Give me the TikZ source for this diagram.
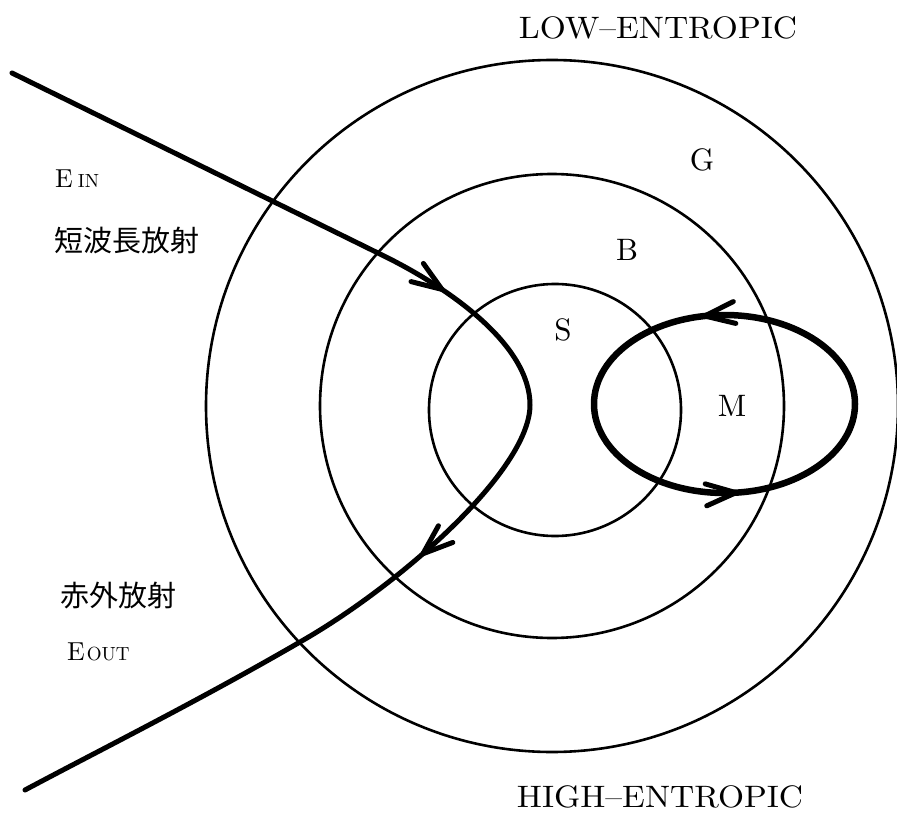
\documentclass[tikz,border=0pt]{standalone}
\usepackage{fontspec}
\usepackage{graphicx}
\setmainfont{lmroman10-regular.otf}
\newfontfamily\cjk{Noto Sans CJK JP}
\usetikzlibrary{arrows.meta,decorations.markings}
\begin{document}
\begin{tikzpicture}[x=1pt,y=-1pt,
  ring/.style={line width=2.6pt},
  ray/.style={line width=5pt, line cap=round},
  loopm/.style={line width=6.5pt},
  barb/.tip={Straight Barb[length=30pt,width=22pt,line width=5pt,round]},
  lbl/.style={font=\fontsize{31}{36}\selectfont, inner sep=0pt},
  big/.style={font=\fontsize{31}{36}\selectfont, inner sep=0pt},
  jp/.style={font=\fontsize{29}{34}\selectfont\cjk, inner sep=0pt},
  esub/.style={inner sep=0pt}
]
\useasboundingbox (0,0) rectangle (897,813);
% centres
\coordinate (C) at (552,406);
\coordinate (Cs) at (555,410);
% rings
\draw[ring] (C) circle[radius=346pt];
\draw[ring] (C) circle[radius=232pt];
\draw[ring] (Cs) circle[radius=126pt];
% radiation curve
\coordinate (A0) at (12,73);
\coordinate (A1) at (380,254);
\coordinate (V) at (530,405);
\coordinate (B1) at (300,642);
\coordinate (B2) at (25,790);
\draw[ray, postaction={decorate}, decoration={markings,
    mark=at position 484pt with {\arrow{barb}},
    mark=at position 822pt with {\arrow{barb}}}]
  (A0) -- (A1) .. controls (450,288) and (530,345) .. (V)
  .. controls (530,470) and (400,585) .. (B1)
  .. controls (200,700) and (100,750) .. (B2);
% M loop
\coordinate (Mr) at (855,404);
\draw[loopm, postaction={decorate}, decoration={markings,
    mark=at position 0.282 with {\arrow{barb}},
    mark=at position 0.77 with {\arrow{barb}}}]
  (Mr) arc[start angle=0, end angle=360, x radius=130.5pt, y radius=89pt];
% labels
\node[big] (low) at (658,28) {\scalebox{1.08}[1]{LOW--ENTROPIC}};
\node[big] (high) at (660,797) {\scalebox{1.08}[1]{HIGH--ENTROPIC}};
\node[lbl] (G) at (702,160) {G};
\node[lbl] (B) at (627,250) {B};
\node[lbl] (S) at (563,330) {S};
\node[lbl] (M) at (732,406) {M};
\node[esub, anchor=base west] (ein) at (55,188) {{\fontsize{26}{30}\selectfont E}\hspace{5pt}{\fontsize{19}{22}\selectfont IN}};
\node[jp] (sw) at (127,241) {短波長放射};
\node[jp] (ir) at (118,596) {赤外放射};
\node[esub, anchor=base west] (eout) at (67,660) {{\fontsize{26}{30}\selectfont E}\hspace{2pt}{\fontsize{19}{22}\selectfont OUT}};
\end{tikzpicture}
\end{document}
